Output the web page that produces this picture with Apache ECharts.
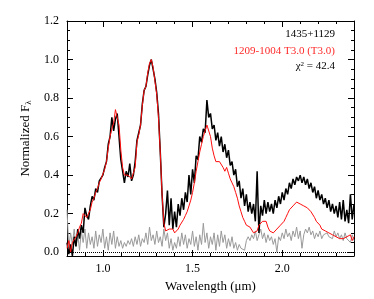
<!DOCTYPE html>
<html>
<head>
<meta charset="utf-8">
<script src="https://cdn.jsdelivr.net/npm/echarts@6/dist/echarts.min.js"></script>
<style>
html,body{margin:0;padding:0;background:#fff;}
#chart{width:374px;height:299px;}
</style>
</head>
<body>
<div id="chart"></div>
<script>
// Wavelength grid (micron)
var wavelength = [0.80,0.81,0.82,0.83,0.84,0.85,0.86,0.87,0.88,0.89,
0.90,0.91,0.92,0.93,0.94,0.95,0.96,0.97,0.98,0.99,
1.00,1.01,1.02,1.03,1.04,1.05,1.06,1.07,1.08,1.09,
1.10,1.11,1.12,1.13,1.14,1.15,1.16,1.17,1.18,1.19,
1.20,1.21,1.22,1.23,1.24,1.25,1.26,1.27,1.28,1.29,
1.30,1.31,1.32,1.33,1.34,1.35,1.36,1.37,1.38,1.39,
1.40,1.41,1.42,1.43,1.44,1.45,1.46,1.47,1.48,1.49,
1.50,1.51,1.52,1.53,1.54,1.55,1.56,1.57,1.58,1.59,
1.60,1.61,1.62,1.63,1.64,1.65,1.66,1.67,1.68,1.69,
1.70,1.71,1.72,1.73,1.74,1.75,1.76,1.77,1.78,1.79,
1.80,1.81,1.82,1.83,1.84,1.85,1.86,1.87,1.88,1.89,
1.90,1.91,1.92,1.93,1.94,1.95,1.96,1.97,1.98,1.99,
2.00,2.01,2.02,2.03,2.04,2.05,2.06,2.07,2.08,2.09,
2.10,2.11,2.12,2.13,2.14,2.15,2.16,2.17,2.18,2.19,
2.20,2.21,2.22,2.23,2.24,2.25,2.26,2.27,2.28,2.29,
2.30,2.31,2.32,2.33,2.34,2.35,2.36,2.37,2.38,2.39,
2.40];

// 1435+1129 (black)
var target = [0.05,-0.01,0.04,-0.02,0.08,0.03,0.12,0.07,0.14,0.10,
0.23,0.19,0.17,0.24,0.29,0.27,0.33,0.31,0.37,0.38,
0.40,0.44,0.47,0.56,0.60,0.70,0.63,0.69,0.72,0.60,
0.48,0.42,0.36,0.42,0.39,0.46,0.37,0.40,0.47,0.58,
0.62,0.66,0.77,0.84,0.86,0.92,0.97,1.00,0.95,0.90,
0.83,0.72,0.52,0.30,0.13,0.20,0.32,0.14,0.28,0.12,
0.21,0.13,0.25,0.19,0.28,0.22,0.31,0.26,0.40,0.30,
0.43,0.36,0.50,0.48,0.60,0.57,0.64,0.62,0.79,0.70,
0.72,0.64,0.66,0.58,0.62,0.55,0.60,0.52,0.56,0.49,
0.53,0.45,0.47,0.40,0.43,0.34,0.37,0.28,0.33,0.24,
0.30,0.21,0.26,0.20,0.25,0.16,0.42,0.10,0.24,0.19,
0.27,0.20,0.26,0.21,0.25,0.20,0.27,0.23,0.29,0.25,
0.31,0.27,0.33,0.30,0.36,0.33,0.38,0.35,0.39,0.37,
0.40,0.36,0.39,0.35,0.38,0.33,0.36,0.31,0.34,0.28,
0.32,0.27,0.30,0.25,0.28,0.23,0.27,0.21,0.25,0.20,
0.24,0.18,0.26,0.17,0.27,0.16,0.22,0.15,0.30,0.17,
0.25];

// 1209-1004 T3.0 template (red)
var template = [0.02,0.06,0.00,0.05,0.04,0.08,0.10,0.13,0.15,0.20,
0.21,0.18,0.17,0.22,0.26,0.28,0.31,0.33,0.36,0.38,
0.39,0.43,0.47,0.54,0.60,0.64,0.67,0.74,0.75,0.66,
0.53,0.44,0.40,0.41,0.40,0.39,0.38,0.37,0.44,0.57,
0.61,0.66,0.76,0.84,0.86,0.93,0.98,1.00,0.96,0.89,
0.82,0.70,0.52,0.30,0.15,0.11,0.11,0.12,0.11,0.12,
0.10,0.09,0.12,0.14,0.15,0.17,0.19,0.21,0.24,0.27,
0.31,0.36,0.42,0.47,0.52,0.56,0.60,0.63,0.66,0.66,
0.60,0.54,0.50,0.47,0.46,0.47,0.48,0.44,0.42,0.44,
0.41,0.38,0.36,0.34,0.31,0.28,0.24,0.21,0.18,0.16,
0.14,0.14,0.13,0.13,0.10,0.09,0.11,0.14,0.15,0.16,
0.15,0.16,0.13,0.11,0.10,0.10,0.11,0.12,0.13,0.14,
0.15,0.16,0.18,0.20,0.22,0.23,0.24,0.25,0.26,0.26,
0.25,0.25,0.24,0.24,0.23,0.22,0.21,0.20,0.18,0.16,
0.15,0.14,0.12,0.12,0.11,0.11,0.10,0.10,0.09,0.09,
0.08,0.08,0.07,0.08,0.07,0.06,0.08,0.07,0.09,0.06,
0.08];

// Noise (grey)
var noise = [0.22,0.02,0.10,0.04,0.12,0.03,0.09,0.01,0.11,0.05,
0.12,0.02,0.10,0.04,0.08,0.02,0.11,0.03,0.09,0.05,
0.12,0.02,0.08,0.01,0.10,0.04,0.11,0.02,0.08,0.03,
0.06,0.02,0.05,0.03,0.06,0.04,0.07,0.03,0.08,0.04,
0.09,0.03,0.07,0.05,0.10,0.04,0.13,0.06,0.09,0.04,
0.11,0.05,0.08,0.03,0.12,0.06,0.10,0.02,0.07,0.01,
0.05,0.02,0.08,0.03,0.10,0.04,0.09,0.02,0.07,0.04,
0.11,0.03,0.08,0.01,0.09,0.04,0.15,0.05,0.10,0.02,
0.08,0.04,0.10,0.01,0.09,0.03,0.11,0.05,0.09,0.02,
0.07,0.03,0.08,0.02,0.05,0.01,0.04,0.02,0.03,0.01,
0.06,0.08,0.06,0.09,0.07,0.11,0.06,0.09,0.12,0.07,
0.10,0.05,0.09,0.06,0.08,0.04,0.07,0.00,0.08,0.06,
0.10,0.07,0.12,0.08,0.10,0.06,0.11,0.08,0.13,0.07,
0.11,0.02,0.09,0.12,0.10,0.13,0.09,0.11,0.07,0.10,
0.08,0.11,0.07,0.09,0.08,0.10,0.08,0.09,0.07,0.11,
0.08,0.10,0.07,0.09,0.06,0.10,0.07,0.08,0.05,0.09,
0.06];

var labels = ['1435+1129', '1209-1004 T3.0 (T3.0)', '42.4'];

function pairs(ys) {
  var out = [];
  for (var i = 0; i < wavelength.length; i++) out.push([wavelength[i], ys[i]]);
  return out;
}

var FONT = '"Liberation Serif", "DejaVu Serif", serif';
var chart = echarts.init(document.getElementById('chart'), null, {renderer: 'canvas'});

function xAx(pos, show) {
  return {
    type: 'value', position: pos, min: 0.8, max: 2.4, splitNumber: 3,
    axisLine: {show: true, onZero: false, lineStyle: {color: '#000', width: 1}},
    axisTick: {show: true, inside: true, length: 6, lineStyle: {color: '#000', width: 1}},
    minorTick: {show: true, splitNumber: 5, length: 3, lineStyle: {color: '#000', width: 1}},
    splitLine: {show: false},
    axisLabel: {show: show, margin: 7, color: '#000', fontFamily: FONT, fontSize: 12,
      showMinLabel: false, showMaxLabel: false,
      formatter: function (v) { return (Math.abs(v - 0.8) < 1e-6 || Math.abs(v - 2.4) < 1e-6) ? '' : v.toFixed(1); }},
    name: show ? 'Wavelength (\u03BCm)' : '', nameLocation: 'middle', nameGap: 19,
    nameTextStyle: {color: '#000', fontFamily: FONT, fontSize: 13}
  };
}
function yAx(pos, show) {
  return {
    type: 'value', position: pos, min: -0.02, max: 1.2, splitNumber: 6,
    axisLine: {show: true, onZero: false, lineStyle: {color: '#000', width: 1}},
    axisTick: {show: true, inside: true, length: 6, lineStyle: {color: '#000', width: 1}},
    minorTick: {show: true, splitNumber: 4, length: 3, lineStyle: {color: '#000', width: 1}},
    splitLine: {show: false},
    axisLabel: {show: show, margin: 8, color: '#000', fontFamily: FONT, fontSize: 12,
      formatter: function (v) { return v < -1e-6 ? '' : v.toFixed(1); }},
    name: show ? 'Normalized F{sub|\u03BB}' : '', nameLocation: 'middle', nameGap: 27, nameRotate: 90,
    nameTextStyle: {color: '#000', fontFamily: FONT, fontSize: 13,
      rich: {sub: {fontFamily: FONT, fontSize: 9, verticalAlign: 'bottom', padding: [6, 0, 0, 0], color: '#000'}}}
  };
}

var option = {
  animation: false,
  backgroundColor: '#fff',
  grid: {left: 67, right: 20, top: 21, bottom: 43, containLabel: false},
  xAxis: [xAx('bottom', true), xAx('top', false)],
  yAxis: [yAx('left', true), yAx('right', false)],
  series: [
    {type: 'line', name: labels[0], data: pairs(target), xAxisIndex: 0, yAxisIndex: 0,
      showSymbol: false, lineStyle: {color: '#000', width: 1.5}, z: 2,
      markLine: {silent: true, symbol: 'none', label: {show: false},
        lineStyle: {color: '#000', type: 'dotted', width: 1}, data: [{yAxis: 0}]}},
    {type: 'line', name: labels[1], data: pairs(template), showSymbol: false,
      lineStyle: {color: '#ff0d0d', width: 1}, z: 3},
    {type: 'line', name: 'noise', data: pairs(noise), showSymbol: false,
      lineStyle: {color: '#9a9a9a', width: 1}, z: 1}
  ],
  graphic: [
    {type: 'text', right: 39, top: 29, style: {text: labels[0], fill: '#000', font: '11px ' + FONT}},
    {type: 'text', right: 39, top: 46, style: {text: labels[1], fill: '#ff2a2a', font: '11px ' + FONT}},
    {type: 'text', right: 39, top: 61, style: {
      text: '{g|\u03C7}{s|2}{g| = ' + labels[2] + '}',
      rich: {g: {fill: '#000', fontFamily: FONT, fontSize: 11, verticalAlign: 'bottom'},
             s: {fill: '#000', fontFamily: FONT, fontSize: 7, verticalAlign: 'top'}}}}
  ]
};
chart.setOption(option);
</script>
</body>
</html>
